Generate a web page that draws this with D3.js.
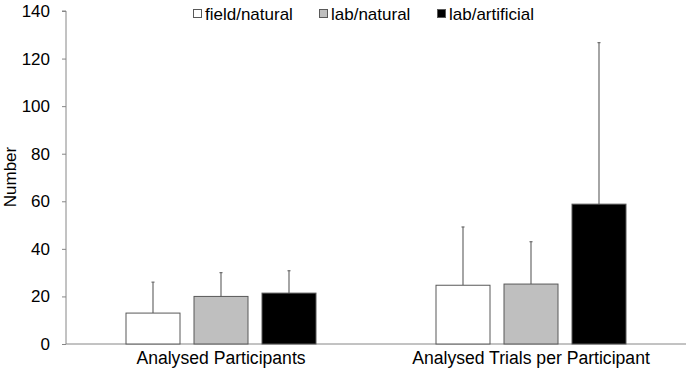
<!DOCTYPE html>
<html lang="en">
<head>
<meta charset="UTF-8">
<title>Number</title>
<style>
    body { margin: 0; background: #fff; }
    text { font-family: 'Liberation Sans', Arial, sans-serif; fill: #000; }
</style>
</head>
<body>
<div id="chart"></div>
<script src="https://d3js.org/d3.v7.min.js"></script>
<script>
    const categories = ["Analysed Participants", "Analysed Trials per Participant"];
    const seriesNames = ["field/natural", "lab/natural", "lab/artificial"];
    const seriesColors = ["#ffffff", "#bfbfbf", "#000000"];
    // means and upper error (mean + SD), per series, per category
    const means = [[13, 24.7], [20, 25.2], [21.4, 58.8]];
    const errTops = [[26, 49.2], [30, 43], [30.8, 126.7]];
    const yTicks = [0, 20, 40, 60, 80, 100, 120, 140];

    const width = 686, height = 377;
    const margin = {top: 11, right: 0, bottom: 33, left: 66};
    const fontSize = 17;

    const svg = d3.select("#chart").append("svg")
        .attr("width", width)
        .attr("height", height);

    const x = d3.scaleBand()
        .domain(categories)
        .range([margin.left, width - margin.right]);

    const y = d3.scaleLinear()
        .domain([0, 140])
        .range([height - margin.bottom, margin.top]);

    const barW = 54, step = 68;

    // y axis
    const yAxis = svg.append("g")
        .attr("transform", `translate(${margin.left},0)`)
        .call(d3.axisLeft(y).tickValues(yTicks).tickSize(4).tickPadding(12));
    yAxis.selectAll("line, path").attr("stroke", "#868686");
    yAxis.selectAll("text").attr("font-size", fontSize).style("font-family", "'Liberation Sans', Arial, sans-serif");
    yAxis.select(".domain").attr("d", `M-4,${y(140)}H0V${y(0)}`);

    // x axis line
    svg.append("line")
        .attr("x1", margin.left).attr("x2", width)
        .attr("y1", y(0)).attr("y2", y(0))
        .attr("stroke", "#868686");

    // category labels
    svg.selectAll(".cat")
        .data(categories)
        .enter().append("text")
        .attr("class", "cat")
        .attr("x", d => x(d) + x.bandwidth() / 2)
        .attr("y", 364)
        .attr("text-anchor", "middle")
        .attr("font-size", 17.6)
        .text(d => d);

    // bars
    seriesNames.forEach((s, i) => {
        const g = svg.append("g");
        categories.forEach((c, j) => {
            const cx = x(c) + x.bandwidth() / 2 + (i - 1) * step;
            g.append("line")
                .attr("x1", cx).attr("x2", cx)
                .attr("y1", y(means[i][j])).attr("y2", y(errTops[i][j]))
                .attr("stroke", "#6a6a6a").attr("stroke-width", 1.2);
            g.append("line")
                .attr("x1", cx - 1.5).attr("x2", cx + 1.5)
                .attr("y1", y(errTops[i][j])).attr("y2", y(errTops[i][j]))
                .attr("stroke", "#6a6a6a").attr("stroke-width", 1.2);
            g.append("rect")
                .attr("x", cx - barW / 2)
                .attr("y", y(means[i][j]))
                .attr("width", barW)
                .attr("height", y(0) - y(means[i][j]))
                .attr("fill", seriesColors[i])
                .attr("stroke", "#595959")
                .attr("stroke-width", 1);
        });
    });

    // legend
    const legendX = [193, 319, 437];
    const legend = svg.append("g");
    seriesNames.forEach((s, i) => {
        legend.append("rect")
            .attr("x", legendX[i] + 0.5).attr("y", 9.5)
            .attr("width", 8).attr("height", 8)
            .attr("fill", seriesColors[i])
            .attr("stroke", "#595959");
        legend.append("text")
            .attr("x", legendX[i] + 12).attr("y", 20)
            .attr("font-size", fontSize)
            .text(s);
    });

    // y title
    svg.append("text")
        .attr("transform", "translate(16,177) rotate(-90)")
        .attr("text-anchor", "middle")
        .attr("font-size", fontSize)
        .text("Number");
</script>
</body>
</html>
